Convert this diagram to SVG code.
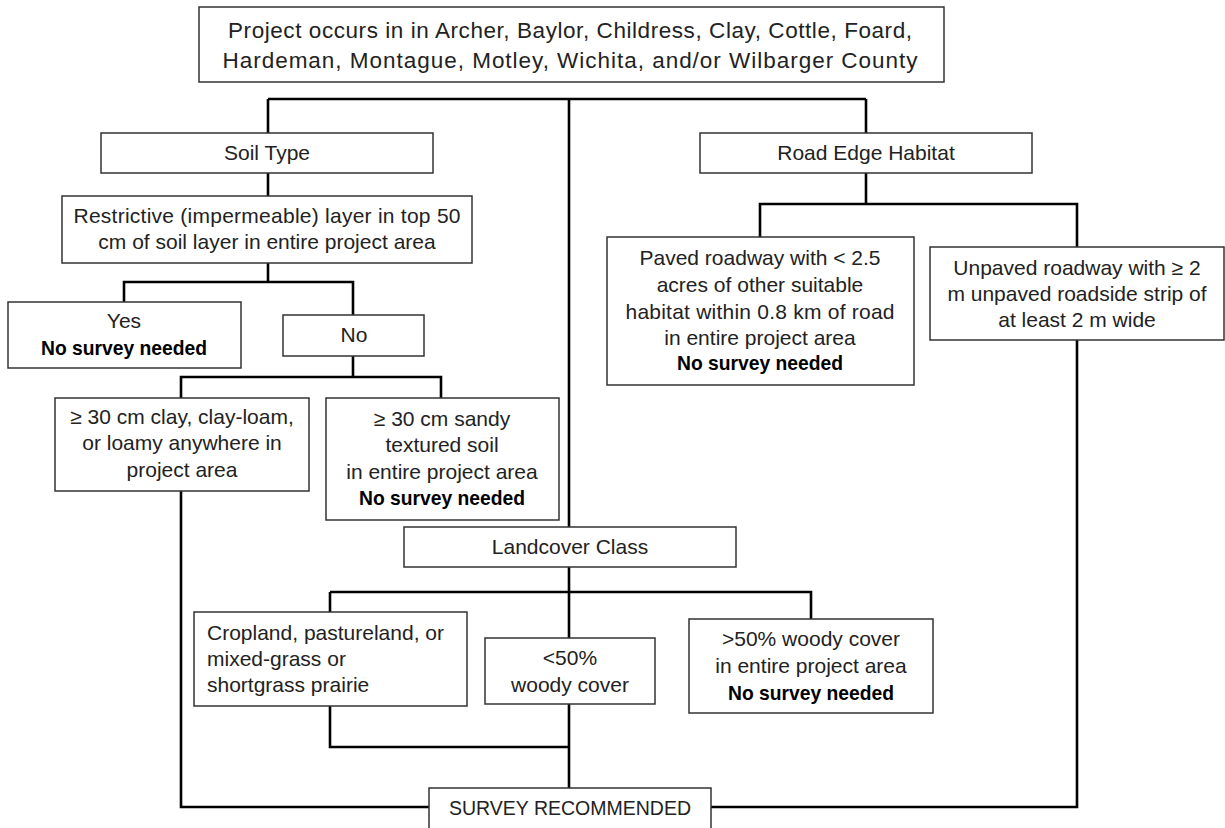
<svg xmlns="http://www.w3.org/2000/svg" width="1225" height="828" viewBox="0 0 1225 828">
<style>
.box{fill:#fff;stroke:#333;stroke-width:1.5}
.t{font-family:"Liberation Sans",Arial,sans-serif;font-size:21px;fill:#222;text-anchor:middle}
.big{font-size:22.5px}
.b{font-weight:bold;fill:#000}
.l{text-anchor:start}
.c{fill:none;stroke:#000;stroke-width:2.6}
</style>
<rect width="1225" height="828" fill="#fff"/>
<g id="connectors" class="c">
<path d="M268,99H866"/>
<path d="M569,99V527"/>
<path d="M268,99V133M268,173V196"/>
<path d="M866,99V133M866,173V204H760V237M866,204H1077V247"/>
<path d="M268,263V282H124V302M268,282H353V315"/>
<path d="M353,356V377H181V398M353,377H441V398"/>
<path d="M181,491V807H429"/>
<path d="M1077,340V807H711"/>
<path d="M569,567V638M330,592H811V619M330,592V612"/>
<path d="M330,706V747H569M569,704V788"/>
</g>
<g id="top"><rect class="box" x="199" y="7" width="745" height="75"/>
<text class="t big" x="570" y="38" textLength="684">Project occurs in in Archer, Baylor, Childress, Clay, Cottle, Foard,</text>
<text class="t big" x="570" y="68" textLength="695">Hardeman, Montague, Motley, Wichita, and/or Wilbarger County</text></g>
<g id="soil"><rect class="box" x="101" y="133" width="332" height="40"/>
<text class="t" x="267" y="160">Soil Type</text></g>
<g id="restrictive"><rect class="box" x="62" y="196" width="410" height="67"/>
<text class="t" x="267" y="223" textLength="387">Restrictive (impermeable) layer in top 50</text>
<text class="t" x="267" y="249">cm of soil layer in entire project area</text></g>
<g id="yes"><rect class="box" x="8" y="302" width="233" height="66"/>
<text class="t" x="124" y="328">Yes</text>
<text class="t b" x="124" y="355" textLength="166" lengthAdjust="spacingAndGlyphs">No survey needed</text></g>
<g id="no"><rect class="box" x="283" y="315" width="141" height="41"/>
<text class="t" x="354" y="342">No</text></g>
<g id="clay"><rect class="box" x="55" y="398" width="254" height="93"/>
<text class="t" x="182" y="424">≥ 30 cm clay, clay-loam,</text>
<text class="t" x="182" y="450">or loamy anywhere in</text>
<text class="t" x="182" y="477">project area</text></g>
<g id="sandy"><rect class="box" x="326" y="398" width="233" height="122"/>
<text class="t" x="442" y="426">≥ 30 cm sandy</text>
<text class="t" x="442" y="452">textured soil</text>
<text class="t" x="442" y="479">in entire project area</text>
<text class="t b" x="442" y="505" textLength="166" lengthAdjust="spacingAndGlyphs">No survey needed</text></g>
<g id="road"><rect class="box" x="700" y="133" width="332" height="40"/>
<text class="t" x="866" y="160">Road Edge Habitat</text></g>
<g id="paved"><rect class="box" x="607" y="237" width="307" height="148"/>
<text class="t" x="760" y="265">Paved roadway with &lt; 2.5</text>
<text class="t" x="760" y="292">acres of other suitable</text>
<text class="t" x="760" y="319" textLength="269">habitat within 0.8 km of road</text>
<text class="t" x="760" y="345">in entire project area</text>
<text class="t b" x="760" y="370" textLength="166" lengthAdjust="spacingAndGlyphs">No survey needed</text></g>
<g id="unpaved"><rect class="box" x="930" y="247" width="294" height="93"/>
<text class="t" x="1077" y="275">Unpaved roadway with ≥ 2</text>
<text class="t" x="1077" y="301">m unpaved roadside strip of</text>
<text class="t" x="1077" y="327">at least 2 m wide</text></g>
<g id="landcover"><rect class="box" x="404" y="527" width="332" height="40"/>
<text class="t" x="570" y="554">Landcover Class</text></g>
<g id="crop"><rect class="box" x="194" y="612" width="273" height="94"/>
<text class="t l" x="207" y="640">Cropland, pastureland, or</text>
<text class="t l" x="207" y="666">mixed-grass or</text>
<text class="t l" x="207" y="692">shortgrass prairie</text></g>
<g id="lt50"><rect class="box" x="485" y="638" width="170" height="66"/>
<text class="t" x="570" y="665">&lt;50%</text>
<text class="t" x="570" y="692">woody cover</text></g>
<g id="gt50"><rect class="box" x="689" y="619" width="244" height="94"/>
<text class="t" x="811" y="646">&gt;50% woody cover</text>
<text class="t" x="811" y="673">in entire project area</text>
<text class="t b" x="811" y="700" textLength="166" lengthAdjust="spacingAndGlyphs">No survey needed</text></g>
<g id="survey"><rect class="box" x="429" y="788" width="282" height="50"/>
<text class="t" x="570" y="815" style="font-size:19.5px">SURVEY RECOMMENDED</text></g>
</svg>
